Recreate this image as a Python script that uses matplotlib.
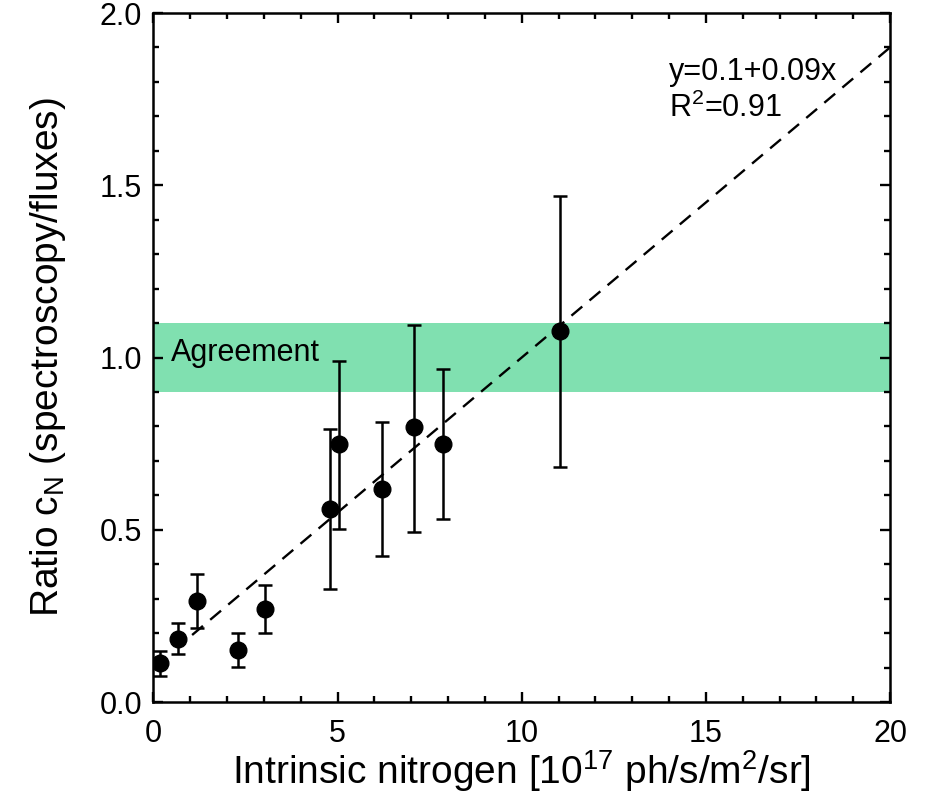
import matplotlib
matplotlib.use("Agg")
import matplotlib.pyplot as plt
import numpy as np
from matplotlib.ticker import MultipleLocator

plt.rcParams['font.family'] = ['Liberation Sans', 'DejaVu Sans']
plt.rcParams['mathtext.fontset'] = 'custom'
plt.rcParams['mathtext.rm'] = 'Liberation Sans'
plt.rcParams['mathtext.it'] = 'Liberation Sans'

# data
nitrogen = [0.19, 0.66, 1.17, 2.30, 3.04, 4.79, 5.03, 6.21, 7.08, 7.86, 11.03]
ratio = [0.114, 0.183, 0.294, 0.151, 0.269, 0.560, 0.748, 0.618, 0.797, 0.750, 1.078]
err_hi = [0.149, 0.229, 0.371, 0.199, 0.339, 0.792, 0.991, 0.812, 1.094, 0.968, 1.469]
err_lo = [0.076, 0.138, 0.216, 0.101, 0.199, 0.327, 0.502, 0.425, 0.494, 0.531, 0.683]
fit_a, fit_b = 0.1, 0.09
band = (0.9, 1.1)

ratio = np.array(ratio)
yerr = [ratio - np.array(err_lo), np.array(err_hi) - ratio]

fig = plt.figure(figsize=(9.3, 7.98), dpi=100)
ax = fig.add_axes([0.165, 0.1203, 0.792, 0.8634])

ax.axhspan(band[0], band[1], color='#80e0b0', lw=0, zorder=0)
ax.text(0.48, 1.013, 'Agreement', fontsize=22, va='center', ha='left')

# fitted line
xf = np.array([1.05, 20])
ax.plot(xf, fit_a + fit_b * xf, 'k--', lw=1.7, dashes=(6, 4))

ax.errorbar(nitrogen, ratio, yerr=yerr, fmt='o', color='k', ms=12,
            elinewidth=1.8, capsize=5, capthick=1.8)

ax.text(14.0, 1.829, 'y=0.1+0.09x', fontsize=22, va='center')
ax.text(14.0, 1.724, 'R$^2$=0.91', fontsize=22, va='center')

ax.set_xlim(0, 20)
ax.set_ylim(0, 2.0)
ax.xaxis.set_minor_locator(MultipleLocator(1))
ax.yaxis.set_minor_locator(MultipleLocator(0.1))
ax.set_xticks([0, 5, 10, 15, 20])
ax.set_xticklabels(['0', '5', '10', '15', '20'])
ax.set_yticks([0, 0.5, 1.0, 1.5, 2.0])
ax.set_yticklabels(['0.0', '0.5', '1.0', '1.5', '2.0'])
ax.tick_params(which='both', direction='in', top=True, right=True, width=1.7, labelsize=22)
ax.tick_params(axis='x', pad=12)
ax.tick_params(axis='y', pad=8)
ax.tick_params(which='major', length=7)
ax.tick_params(which='minor', length=4)
for s in ax.spines.values():
    s.set_linewidth(1.8)

ax.set_xlabel('Intrinsic nitrogen [10$^{17}$ ph/s/m$^2$/sr]', fontsize=28, labelpad=0)
ax.set_ylabel('Ratio c$_\\mathrm{N}$ (spectroscopy/fluxes)', fontsize=28, labelpad=23)

fig.savefig('out.png', dpi=100)
